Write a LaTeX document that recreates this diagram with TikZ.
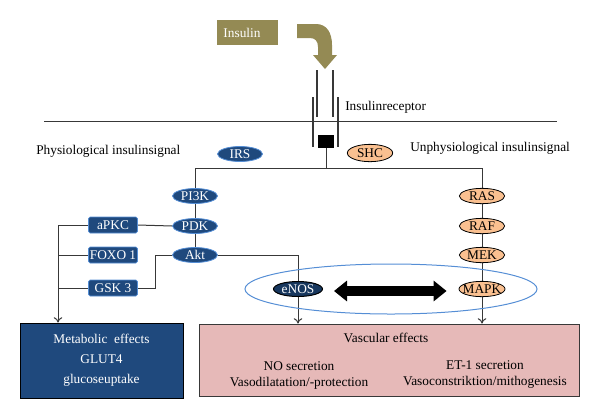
\documentclass[tikz,border=0pt]{standalone}
\usepackage{fontspec}
\setmainfont{Liberation Serif}
\usetikzlibrary{arrows.meta,shapes.geometric,backgrounds}
\definecolor{navy}{HTML}{1F497D}
\definecolor{darknavy}{HTML}{17375E}
\definecolor{peach}{HTML}{FAC090}
\definecolor{olivec}{HTML}{948A54}
\definecolor{pinkbox}{HTML}{E6B9B8}
\definecolor{lblue}{HTML}{558ED5}
\definecolor{linec}{HTML}{383838}
\newcommand\cbx[1]{\makebox[0pt]{#1}}
\begin{document}
\begin{tikzpicture}[x=0.75pt,y=-0.75pt,
  font=\fontsize{10}{12}\selectfont,
  conn/.style={draw=linec, line width=0.75pt},
  arr/.style={conn, -{To[length=4pt,width=6.5pt]}},
  bell/.style={ellipse, inner sep=0pt, fill=navy, draw=lblue, line width=0.6pt, text=white,
    minimum width=33.75pt, minimum height=11.25pt},
  pell/.style={ellipse, inner sep=0pt, fill=peach, draw=black, line width=0.6pt, text=black,
    minimum width=34pt, minimum height=11.5pt},
  brect/.style={rectangle, rounded corners=1.2pt, inner sep=0pt, fill=navy, draw=lblue, line width=0.6pt,
    text=white, minimum width=36.75pt, minimum height=12pt},
  lbl/.style={anchor=west, inner sep=0pt, text=black},
  bigarr/.style={line width=7.5pt, draw=black, {Triangle[length=9.75pt,width=15pt]}-{Triangle[length=9.75pt,width=15pt]}}
]
\useasboundingbox (0,0) rectangle (600,419);

% Insulin
\node[rectangle, fill=olivec, text=white, minimum width=45.75pt, minimum height=18.75pt, inner sep=0pt] (ins) at (247,32.5) {\hspace*{-7.5pt}Insulin};
\fill[olivec] (297,24) -- (316,24) .. controls (327,24) and (332,33) .. (332,45) -- (332,55) -- (337,55)
  -- (325,69) -- (313,55) -- (318,55) -- (318,47) .. controls (318,41) and (315,38) .. (310,38) -- (297,38) -- cycle;

% receptor
\draw[linec, line width=0.9pt] (317,70) -- (317,117) (333,70) -- (333,117);
\draw[linec, line width=0.9pt] (313,97) -- (313,147) (338,97) -- (338,147);
\draw[linec, line width=0.75pt] (44,121) -- (557,121);
\node[rectangle, fill=black, minimum width=12pt, minimum height=9.75pt, inner sep=0pt] (sq) at (326,141.5) {};
\node[lbl] (rec) at (345,107) {Insulinreceptor};

\node[lbl] (phys) at (36,151) {Physiological insulinsignal};
\node[lbl] (unphys) at (410,148) {Unphysiological insulinsignal};

% left column
\node[bell] (IRS) at (240,154) {\cbx{IRS}};
\node[bell] (PI3K) at (195,196) {\cbx{PI3K}};
\node[bell] (PDK) at (195,226) {\cbx{PDK}};
\node[bell] (Akt) at (195,255) {\cbx{Akt}};
\node[brect] (aPKC) at (113,225) {aPKC};
\node[brect] (FOXO) at (113,255) {FOXO 1};
\node[brect] (GSK) at (113,288) {GSK 3};

% right column
\node[pell, minimum height=13pt] (SHC) at (370,153) {\cbx{SHC}};
\node[pell] (RAS) at (482,196) {\cbx{RAS}};
\node[pell] (RAF) at (482,226) {\cbx{RAF}};
\node[pell] (MEK) at (482,255) {\cbx{MEK}};

% grouping ellipse
\node[ellipse, draw=lblue, line width=0.75pt, inner sep=0pt, minimum width=219pt, minimum height=37.5pt] (grp) at (391,289) {};
\node[pell, minimum width=34.5pt] (MAPK) at (482,289) {\cbx{MAPK}};
\node[ellipse, inner sep=0pt, fill=darknavy, draw=black, line width=0.75pt, text=white,
  minimum width=36.75pt, minimum height=11.25pt] (eNOS) at (298,289) {\cbx{eNOS}};

% effect boxes
\node[rectangle, fill=navy, draw=black, line width=0.75pt, minimum width=122.25pt, minimum height=56.25pt,
  inner sep=0pt, text=white, align=center, font=\fontsize{10}{15}\selectfont] (meta) at (101.5,360.5)
  {Metabolic\ \ effects\\GLUT4\\glucoseuptake};
\node[rectangle, fill=pinkbox, draw=linec, line width=0.75pt, minimum width=285pt, minimum height=54pt,
  inner sep=0pt] (vasc) at (389,360) {};
\node[inner sep=0pt] (vt) at (386,338) {Vascular effects};
\node[inner sep=0pt, align=center] (vl) at (299,375) {NO secretion\\Vasodilatation/-protection};
\node[inner sep=0pt, align=center] (vr) at (485,375) {ET-1 secretion\\Vasoconstriktion/mithogenesis};

\coordinate (hl) at (0,168);
\coordinate (bus) at (58,0);
\coordinate (akj) at (155,0);

\begin{scope}[on background layer]
  \draw[conn] (sq.south) -- (sq.south |- hl);
  \draw[conn] (PI3K.north) -- (PI3K.north |- hl) -- (RAS.north |- hl) -- (RAS.north);
  \draw[conn] (PI3K.south) -- (PDK.north) (PDK.south) -- (Akt.north);
  \draw[conn] (RAS.south) -- (RAF.north) (RAF.south) -- (MEK.north) (MEK.south) -- (MAPK.north);
  \draw[arr] (MAPK.south) -- (MAPK.south |- vasc.north);
  \draw[conn] (aPKC.east) -- (PDK.west);
  \draw[arr] (aPKC.west) -- (aPKC.west -| bus) -- (bus |- meta.north);
  \draw[conn] (FOXO.west) -- (FOXO.west -| bus);
  \draw[conn] (GSK.west) -- (GSK.west -| bus);
  \draw[conn] (Akt.west) -- (Akt.west -| akj) -- (GSK.east -| akj) -- (GSK.east);
  \draw[arr] (Akt.east) -- (Akt.east -| eNOS) -- (eNOS |- vasc.north);
\end{scope}

\draw[bigarr, shorten <=8.25pt, shorten >=9pt] ([yshift=-1.5pt]eNOS.east) -- ([yshift=-1.5pt]MAPK.west);
\end{tikzpicture}
\end{document}
